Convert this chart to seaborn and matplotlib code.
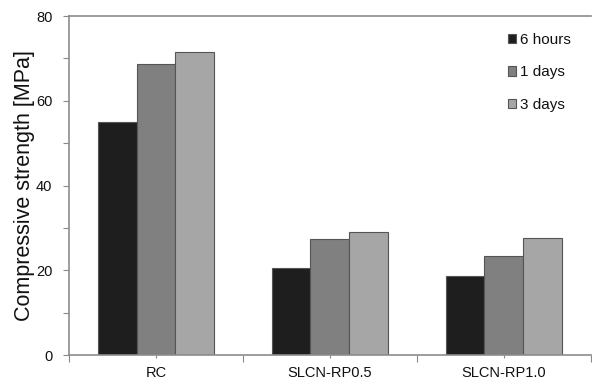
import matplotlib
matplotlib.use("Agg")
import matplotlib.pyplot as plt
import seaborn as sns
import pandas as pd
from matplotlib.ticker import MultipleLocator, FixedLocator

categories = ["RC", "SLCN-RP0.5", "SLCN-RP1.0"]
series = ["6 hours", "1 days", "3 days"]
v_6h = [54.9, 20.5, 18.6]
v_1d = [68.7, 27.4, 23.4]
v_3d = [71.4, 29.1, 27.6]
colors = ["#1e1e1e", "#808080", "#a6a6a6"]

rows = []
for s, vals in zip(series, [v_6h, v_1d, v_3d]):
    for c, v in zip(categories, vals):
        rows.append({"cat": c, "series": s, "val": v})
df = pd.DataFrame(rows)

sns.set_theme(style="white")
plt.rcParams["font.family"] = ["Liberation Sans", "DejaVu Sans"]

fig = plt.figure(figsize=(5.92, 3.84), dpi=100)
ax = fig.add_axes([0.1166, 0.0747, 0.8814, 0.8836])
sns.barplot(data=df, x="cat", y="val", hue="series", palette=colors,
            width=0.67, gap=0, ax=ax, edgecolor="#555555", linewidth=0.8,
            saturation=1)

ax.set_xlim(-0.5, 2.5)
ax.set_ylim(0, 80)
ax.yaxis.set_major_locator(MultipleLocator(20))
ax.yaxis.set_minor_locator(MultipleLocator(10))
ax.xaxis.set_minor_locator(FixedLocator([-0.5, 0.5, 1.5, 2.5]))
ax.tick_params(axis="y", which="both", direction="out", length=4, width=0.8,
               color="#888888", left=True, labelsize=10.5, labelcolor="#111111", pad=8)
ax.tick_params(axis="x", which="major", direction="out", length=2, width=0.8,
               color="#888888", bottom=True, labelsize=10.5, labelcolor="#111111", pad=6)
ax.tick_params(axis="x", which="minor", direction="out", length=5, width=0.8,
               color="#888888", bottom=True)
ax.set_xlabel("")
ax.set_ylabel("Compressive strength [MPa]", fontsize=15.5, color="#111111", labelpad=1)

for side in ["left", "bottom", "top"]:
    ax.spines[side].set_visible(True)
    ax.spines[side].set_color("#8c8c8c")
    ax.spines[side].set_linewidth(1.2)
ax.spines["right"].set_visible(False)

leg = ax.legend(loc="upper left", bbox_to_anchor=(0.841, 0.950), frameon=False,
                borderaxespad=0, borderpad=0,
                fontsize=11, handlelength=0.55, handleheight=0.55, handletextpad=0.25,
                labelspacing=1.2)
for t in leg.get_texts():
    t.set_color("#111111")

fig.savefig("out.png", dpi=100)
